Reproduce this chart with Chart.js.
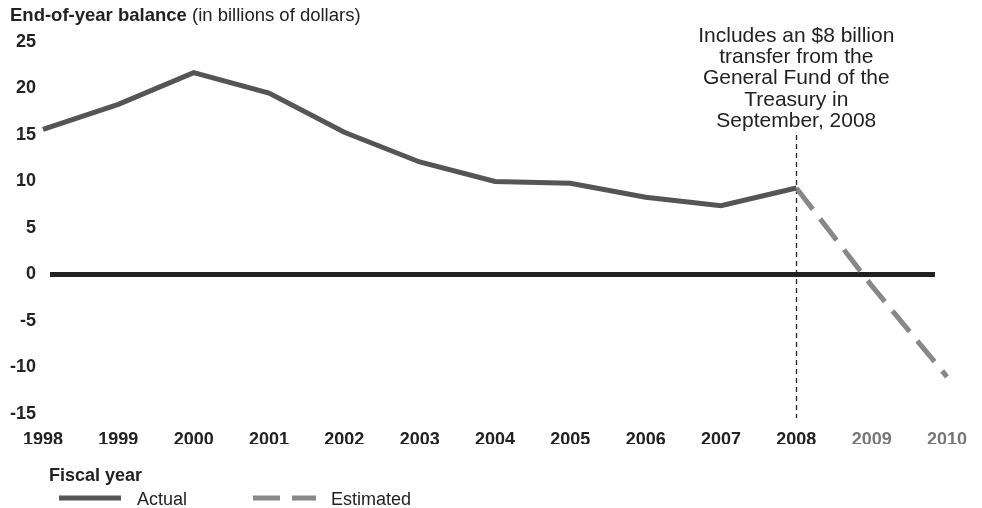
<!DOCTYPE html>
<html>
<head>
<meta charset="utf-8">
<script src="https://cdn.jsdelivr.net/npm/chart.js@4.4.1/dist/chart.umd.min.js"></script>
<style>
  html, body { margin: 0; padding: 0; background: #fff; }
  #wrap { width: 982px; height: 508px; }
</style>
</head>
<body>
<div id="wrap"><canvas id="chart" width="982" height="508"></canvas></div>
<script>
// data (billions of dollars)
const years = ['1998', '1999', '2000', '2001', '2002', '2003', '2004', '2005', '2006', '2007', '2008', '2009', '2010'];
const actual = [15.6, 18.3, 21.7, 19.5, 15.3, 12.1, 10.0, 9.8, 8.3, 7.4, 9.3, null, null];
const estimated = [null, null, null, null, null, null, null, null, null, null, 9.3, -1.2, -11.0];
const estimatedYears = ['2009', '2010'];
const yMin = -15, yMax = 25, yStep = 5;
const noteYear = '2008';
const noteLines = ['Includes an $8 billion', 'transfer from the', 'General Fund of the', 'Treasury in', 'September, 2008'];

const FONT = '"Liberation Sans", Arial, Helvetica, sans-serif';
const INK = '#222';

const extras = {
    id: 'extras',
    beforeDatasetsDraw(chart) {
        const ctx = chart.ctx;
        const x = chart.scales.x, y = chart.scales.y;
        ctx.save();
        // zero line
        let y0 = y.getPixelForValue(0);
        ctx.strokeStyle = INK;
        ctx.lineWidth = 5;
        ctx.beginPath();
        ctx.moveTo(x.getPixelForValue(0) + 7, y0);
        ctx.lineTo(x.getPixelForValue(years.length - 1) - 12, y0);
        ctx.stroke();
        // dotted marker for the transfer
        let xn = Math.round(x.getPixelForValue(years.indexOf(noteYear))) + 0.5;
        ctx.lineWidth = 1.3;
        ctx.setLineDash([5, 4]);
        ctx.beginPath();
        ctx.moveTo(xn, 135);
        ctx.lineTo(xn, chart.chartArea.bottom + 4);
        ctx.stroke();
        ctx.restore();
    },
    afterDraw(chart) {
        const ctx = chart.ctx;
        const x = chart.scales.x;
        ctx.save();
        ctx.fillStyle = INK;
        // title
        ctx.textBaseline = 'alphabetic';
        ctx.textAlign = 'left';
        ctx.font = 'bold 18.5px ' + FONT;
        let t1 = 'End-of-year balance';
        ctx.fillText(t1, 10, 21);
        let w = ctx.measureText(t1).width;
        ctx.font = '18.5px ' + FONT;
        ctx.fillText(' (in billions of dollars)', 10 + w, 21);
        // note
        ctx.font = '21px ' + FONT;
        ctx.textAlign = 'center';
        let xn = x.getPixelForValue(years.indexOf(noteYear));
        noteLines.forEach((l, i) => ctx.fillText(l, xn, 42 + i * 21.2));
        // fiscal year + legend
        ctx.textAlign = 'left';
        ctx.font = 'bold 18px ' + FONT;
        ctx.fillText('Fiscal year', 49, 481);
        ctx.font = '18px ' + FONT;
        ctx.fillText('Actual', 137, 505);
        ctx.fillText('Estimated', 331, 505);
        ctx.lineWidth = 5;
        ctx.strokeStyle = '#555';
        ctx.beginPath();
        ctx.moveTo(59, 498);
        ctx.lineTo(121, 498);
        ctx.stroke();
        ctx.strokeStyle = '#888';
        ctx.setLineDash([27, 12]);
        ctx.beginPath();
        ctx.moveTo(253, 498);
        ctx.lineTo(316, 498);
        ctx.stroke();
        ctx.restore();
    }
};

new Chart(document.getElementById('chart'), {
    type: 'line',
    data: {
        labels: years,
        datasets: [{
            label: 'Actual',
            data: actual,
            borderColor: '#555',
            borderWidth: 5,
            pointRadius: 0,
            tension: 0,
            spanGaps: false
        }, {
            label: 'Estimated',
            data: estimated,
            borderColor: '#888',
            borderWidth: 5,
            borderDash: [27, 12],
            pointRadius: 0,
            tension: 0
        }]
    },
    options: {
        responsive: false,
        animation: false,
        devicePixelRatio: 1,
        layout: { padding: { top: 42, right: 35, bottom: 64, left: 0 } },
        plugins: {
            legend: { display: false },
            tooltip: { enabled: false }
        },
        scales: {
            x: {
                offset: false,
                grid: { display: false, drawTicks: false },
                border: { display: false },
                ticks: {
                    autoSkip: false,
                    maxRotation: 0,
                    padding: 15,
                    font: { family: FONT, size: 18, weight: 'bold' },
                    color: (c) => estimatedYears.includes(years[c.index]) ? '#777' : INK
                },
                afterFit: (s) => { s.height = 30; }
            },
            y: {
                min: yMin,
                max: yMax,
                grid: { display: false, drawTicks: false },
                border: { display: false },
                ticks: {
                    stepSize: yStep,
                    padding: 7,
                    font: { family: FONT, size: 18, weight: 'bold' },
                    color: INK
                },
                afterFit: (s) => { s.width = 43; }
            }
        }
    },
    plugins: [extras]
});
</script>
</body>
</html>
